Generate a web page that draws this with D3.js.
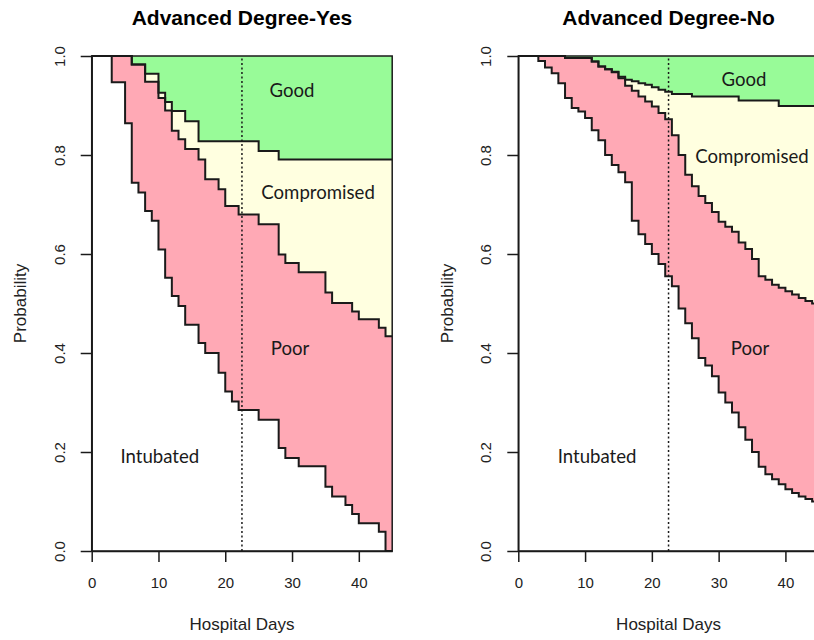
<!DOCTYPE html>
<html>
<head>
<meta charset="utf-8">
<script src="https://cdn.jsdelivr.net/npm/d3@7"></script>
<style>
  body { margin: 0; background: #fff; }
  svg { display: block; }
</style>
</head>
<body>
<div id="chart"></div>
<script>
// ---- values: [day, cumulative probability] at each step ----
const xTicks = [0, 10, 20, 30, 40];
const yTicks = [0, 0.2, 0.4, 0.6, 0.8, 1.0];
const cutDay = 22.5;
const maxDay = 45;

// Advanced Degree-Yes
const yesIntubated = [[0,1],[3,0.947],[5,0.864],[6,0.744],[7,0.724],[8,0.687],[9,0.667],[10,0.609],[11,0.552],[12,0.515],[13,0.495],[14,0.457],[16,0.420],[17,0.400],[19,0.360],[20,0.322],[21,0.302],[22,0.285],[25,0.265],[28,0.208],[29,0.188],[31,0.171],[35,0.130],[36,0.110],[38,0.093],[39,0.075],[40,0.056],[43,0.039],[44,0]];
const yesPoor = [[0,1],[6,0.983],[8,0.948],[10,0.915],[11,0.89],[12,0.849],[13,0.832],[14,0.812],[16,0.791],[17,0.751],[19,0.731],[20,0.697],[22,0.680],[25,0.660],[28,0.599],[29,0.582],[31,0.563],[35,0.522],[36,0.501],[39,0.484],[40,0.468],[43,0.451],[44,0.434]];
const yesCompromised = [[0,1],[6,0.983],[8,0.964],[10,0.926],[11,0.907],[12,0.889],[14,0.868],[16,0.828],[25,0.808],[28,0.791]];

// Advanced Degree-No
const noIntubated = [[0,1],[3,0.99],[4,0.977],[5,0.965],[6,0.945],[7,0.915],[8,0.895],[9,0.888],[10,0.875],[11,0.85],[12,0.83],[13,0.80],[14,0.78],[15,0.765],[16,0.745],[17,0.667],[18,0.64],[19,0.62],[20,0.60],[21,0.58],[22,0.555],[23,0.535],[24,0.49],[25,0.46],[26,0.43],[27,0.39],[28,0.375],[29,0.353],[30,0.32],[31,0.30],[32,0.28],[33,0.25],[34,0.225],[35,0.20],[36,0.17],[37,0.155],[38,0.145],[39,0.135],[40,0.125],[41,0.117],[42,0.11],[43,0.105],[44,0.10]];
const noPoor = [[0,1],[7,0.996],[11,0.989],[12,0.979],[13,0.973],[14,0.967],[15,0.955],[16,0.94],[17,0.93],[18,0.918],[19,0.908],[20,0.898],[21,0.885],[22,0.872],[23,0.84],[24,0.80],[25,0.76],[26,0.737],[27,0.717],[28,0.703],[29,0.685],[30,0.665],[31,0.655],[32,0.645],[33,0.623],[34,0.61],[35,0.59],[36,0.555],[37,0.548],[38,0.538],[39,0.532],[40,0.525],[41,0.518],[42,0.511],[43,0.505],[44,0.50]];
const noCompromised = [[0,1],[7,0.996],[11,0.989],[12,0.979],[13,0.973],[14,0.968],[15,0.958],[16,0.952],[17,0.949],[18,0.945],[19,0.942],[20,0.937],[21,0.932],[22,0.928],[23,0.923],[26,0.918],[33,0.91],[39,0.899]];

const panelTitles = ["Advanced Degree-Yes", "Advanced Degree-No"];
const regionNames = ["Good", "Compromised", "Poor", "Intubated"];

// ---- layout ----
const width = 814, height = 640;
const plotTop = 56, plotH = 495, plotW = 300.5;
const colors = {good: "#98fb98", comp: "#ffffe0", poor: "#ffa9b5"};

const panels = [
  {left: 91.7, title: panelTitles[0], curves: [yesIntubated, yesPoor, yesCompromised],
   labels: [[30.0, 0.931], [33.9, 0.725], [29.7, 0.409], [10.2, 0.19]]},
  {left: 518.3, title: panelTitles[1], curves: [noIntubated, noPoor, noCompromised],
   labels: [[33.8, 0.953], [35.0, 0.796], [34.7, 0.409], [11.8, 0.19]]}
];

const svg = d3.select("#chart").append("svg")
  .attr("width", width)
  .attr("height", height)
  .style("font-family", "'Liberation Sans', Arial, sans-serif");

// value of a step curve at a given day
function stepValue(curve, day) {
  let v = curve[0][1];
  for (const [d, p] of curve) { if (d <= day) v = p; }
  return v;
}

panels.forEach(panel => {
  const g = svg.append("g").attr("transform", `translate(${panel.left},${plotTop})`);

  const x = d3.scaleLinear().domain([0, maxDay]).range([0, plotW]);
  const y = d3.scaleLinear().domain([0, 1]).range([plotH, 0]);

  // merge every step day so the bands can be filled between curves
  const days = Array.from(new Set([0, maxDay, ...panel.curves.flatMap(c => c.map(p => p[0]))]))
    .sort((a, b) => a - b);
  const rows = days.map(d => ({
    d: d,
    a: stepValue(panel.curves[0], d),
    b: stepValue(panel.curves[1], d),
    c: stepValue(panel.curves[2], d)
  }));

  const band = (lo, hi) => d3.area()
    .curve(d3.curveStepAfter)
    .x(r => x(r.d))
    .y0(r => y(lo(r)))
    .y1(r => y(hi(r)));

  g.append("path").datum(rows).attr("d", band(r => r.c, r => 1)).attr("fill", colors.good);
  g.append("path").datum(rows).attr("d", band(r => r.b, r => r.c)).attr("fill", colors.comp);
  g.append("path").datum(rows).attr("d", band(r => r.a, r => r.b)).attr("fill", colors.poor);

  // step lines
  ["a", "b", "c"].forEach(k => {
    g.append("path").datum(rows)
      .attr("d", d3.line().curve(d3.curveStepAfter).x(r => x(r.d)).y(r => y(r[k])))
      .attr("fill", "none")
      .attr("stroke", "#1a1a1a")
      .attr("stroke-width", 2);
  });

  // box round the plot
  g.append("rect")
    .attr("x", x(0)).attr("y", y(1))
    .attr("width", x(maxDay) - x(0)).attr("height", y(0) - y(1))
    .attr("fill", "none").attr("stroke", "#1a1a1a").attr("stroke-width", 1.5);

  // dotted cut line
  g.append("line")
    .attr("x1", x(cutDay)).attr("x2", x(cutDay))
    .attr("y1", y(0)).attr("y2", y(1))
    .attr("stroke", "#1a1a1a").attr("stroke-width", 1.5)
    .attr("stroke-dasharray", "2,2.5");

  // region labels
  g.selectAll("text.region")
    .data(regionNames)
    .enter().append("text")
    .attr("class", "region")
    .attr("x", (d, i) => x(panel.labels[i][0]))
    .attr("y", (d, i) => y(panel.labels[i][1]))
    .attr("dy", "0.35em")
    .attr("text-anchor", "middle")
    .style("font-family", "Lato, 'Open Sans', sans-serif")
    .style("font-size", "18.6px")
    .attr("fill", "#1a1a1a")
    .text(d => d);

  // x axis
  const xAxis = g.append("g")
    .attr("transform", `translate(0,${plotH})`)
    .call(d3.axisBottom(x).tickValues(xTicks).tickSize(11).tickSizeOuter(0).tickPadding(15));
  xAxis.selectAll("text").style("font-size", "15px").attr("fill", "#222");

  // y axis with R style rotated labels
  const yAxis = g.append("g")
    .call(d3.axisLeft(y).tickValues(yTicks).tickSize(11).tickSizeOuter(0).tickFormat(d3.format(".1f")));
  yAxis.selectAll("text")
    .attr("transform", "rotate(-90)")
    .attr("x", 0).attr("y", -27).attr("dy", 0)
    .attr("text-anchor", "middle")
    .style("font-size", "15px").attr("fill", "#222");

  [xAxis, yAxis].forEach(ax => {
    ax.selectAll("path, line").attr("stroke", "#1a1a1a").attr("stroke-width", 1.5);
  });

  // titles
  g.append("text")
    .attr("x", plotW / 2).attr("y", 25 - plotTop)
    .attr("text-anchor", "middle")
    .style("font-size", "21px").style("font-weight", "bold")
    .text(panel.title);

  g.append("text")
    .attr("x", plotW / 2).attr("y", plotH + 79)
    .attr("text-anchor", "middle")
    .style("font-size", "17px").attr("fill", "#222")
    .text("Hospital Days");

  g.append("text")
    .attr("transform", "rotate(-90)")
    .attr("x", -plotH / 2).attr("y", -65.5)
    .attr("text-anchor", "middle")
    .style("font-size", "17px").attr("fill", "#222")
    .text("Probability");
});
</script>
</body>
</html>
